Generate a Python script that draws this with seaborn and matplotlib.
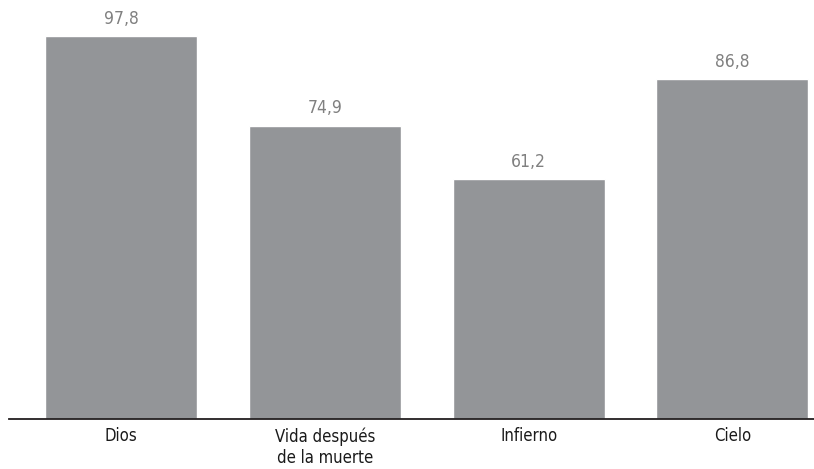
import matplotlib
matplotlib.use("Agg")
import matplotlib.pyplot as plt
import seaborn as sns
import pandas as pd

categorias = ["Dios", "Vida después\nde la muerte", "Infierno", "Cielo"]
valores = [97.8, 74.9, 61.2, 86.8]
etiquetas = ["97,8", "74,9", "61,2", "86,8"]

sns.set_style("white")
plt.rcParams['font.family'] = ['DejaVu Sans']
plt.rcParams['font.stretch'] = 'condensed'

df = pd.DataFrame({'cat': categorias, 'val': valores})

fig = plt.figure(figsize=(8.14, 4.69), dpi=100)
ax = fig.add_axes([9 / 814, 50 / 469, 805 / 814, 419 / 469])
sns.barplot(data=df, x='cat', y='val', color='#939598', saturation=1,
            width=0.746, ax=ax)

# value labels above bars
ax.bar_label(ax.containers[0], labels=etiquetas, padding=6,
             fontsize=12.5, color='#808080')

ax.set_xlim(-0.55, 3.4)
ax.set_ylim(0, 107)
ax.set_xlabel('')
ax.set_ylabel('')
ax.set_yticks([])
ax.tick_params(axis='x', length=0, pad=6, labelsize=12, colors='#1a1a1a')
for s in ['top', 'right', 'left']:
    ax.spines[s].set_visible(False)
ax.spines['bottom'].set_color('#231f20')
ax.spines['bottom'].set_linewidth(1.3)

fig.savefig('out.png', dpi=100)
